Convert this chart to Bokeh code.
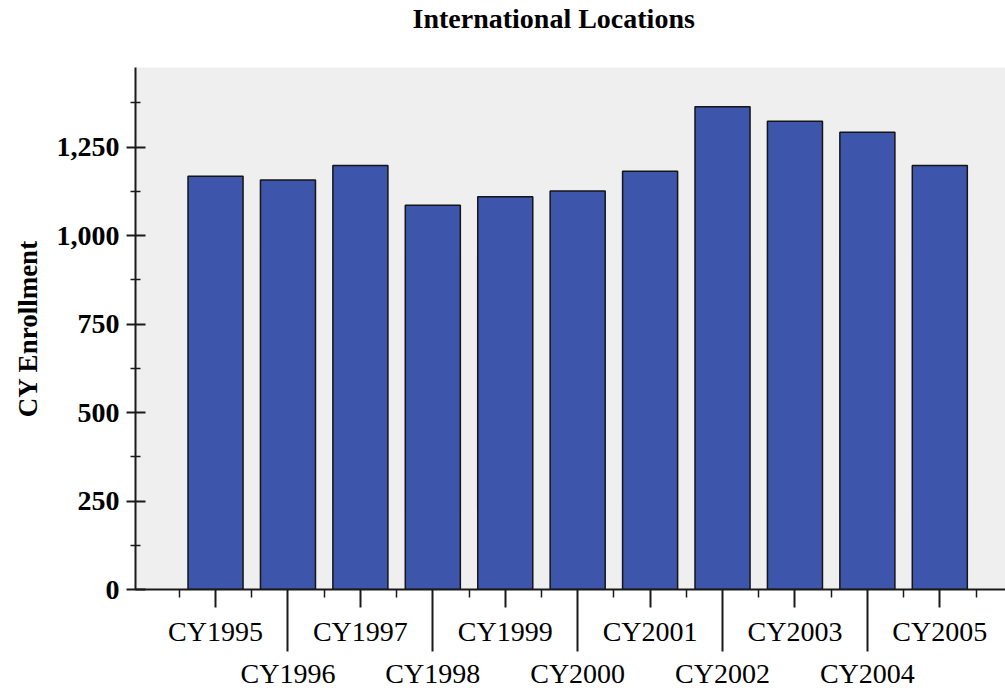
from bokeh.plotting import figure
from bokeh.models import FixedTicker, LinearAxis, NumeralTickFormatter, Range1d, Title
from bokeh.embed import file_html
from bokeh.resources import INLINE

# ---- data ----
years = ["CY1995", "CY1996", "CY1997", "CY1998", "CY1999", "CY2000",
         "CY2001", "CY2002", "CY2003", "CY2004", "CY2005"]
enrollment = [1168, 1157, 1198, 1086, 1110, 1126, 1182, 1364, 1323, 1292, 1198]
y_ticks = [0, 250, 500, 750, 1000, 1250]
y_minor_ticks = [125, 375, 625, 875, 1125, 1375]
title_text = "International Locations"
y_label = "CY Enrollment"

idx = list(range(len(years)))
row1 = idx[0::2]          # CY1995, CY1997, ...
row2 = idx[1::2]          # CY1996, CY1998, ...
boundaries = [i - 0.5 for i in idx] + [idx[-1] + 0.5]

SERIF = "Liberation Serif"
BAR = "#3D55AB"
INK = "#1a1a1a"

p = figure(width=1005, height=691, title=None,
           x_range=Range1d(-1.105, 10.907), y_range=Range1d(0, 1475),
           x_axis_location=None, y_axis_location=None,
           output_backend="svg", toolbar_location=None,
           min_border_left=135, min_border_right=0,
           min_border_top=0, min_border_bottom=0)
p.background_fill_color = "#EFEFEF"
p.border_fill_color = "white"
p.outline_line_color = None
p.xgrid.grid_line_color = None
p.ygrid.grid_line_color = None

# spacer between the frame and the title, then the title on top
p.add_layout(Title(text=" ", standoff=0, text_font=SERIF,
                   text_font_size="25px"), "above")
p.add_layout(Title(text=title_text, align="left", offset=277,
                   vertical_align="top", standoff=5,
                   text_font=SERIF, text_font_style="bold",
                   text_font_size="28px", text_color="black"), "above")

p.vbar(x=idx, top=enrollment, bottom=0, width=0.76,
       fill_color=BAR, line_color="#151515", line_width=1.5)

# y axis
yaxis = LinearAxis(ticker=FixedTicker(ticks=y_ticks, minor_ticks=y_minor_ticks),
                   formatter=NumeralTickFormatter(format="0,0"),
                   axis_label=y_label)
yaxis.axis_line_color = INK
yaxis.axis_line_width = 2
yaxis.major_tick_in = 10
yaxis.major_tick_out = 9
yaxis.major_tick_line_width = 2
yaxis.major_tick_line_color = INK
yaxis.minor_tick_in = 5
yaxis.minor_tick_out = 5
yaxis.minor_tick_line_width = 1.5
yaxis.minor_tick_line_color = INK
yaxis.major_label_text_font = SERIF
yaxis.major_label_text_font_style = "bold"
yaxis.major_label_text_font_size = "28px"
yaxis.major_label_text_color = "black"
yaxis.major_label_standoff = 7
yaxis.axis_label_text_font = SERIF
yaxis.axis_label_text_font_style = "bold"
yaxis.axis_label_text_font_size = "27px"
yaxis.axis_label_text_color = "black"
yaxis.axis_label_standoff = 11
p.add_layout(yaxis, "left")

# x axis, first label row (with the axis line)
xa = LinearAxis(ticker=FixedTicker(ticks=row1, minor_ticks=boundaries),
                major_label_overrides={i: years[i] for i in row1})
xa.axis_line_color = INK
xa.axis_line_width = 2
xa.major_tick_in = 0
xa.major_tick_out = 18
xa.major_tick_line_width = 2
xa.major_tick_line_color = INK
xa.minor_tick_in = 0
xa.minor_tick_out = 8
xa.minor_tick_line_width = 1.5
xa.minor_tick_line_color = INK
xa.major_label_text_font = SERIF
xa.major_label_text_font_size = "28px"
xa.major_label_text_color = "black"
xa.major_label_standoff = 8
p.add_layout(xa, "below")

# x axis, second label row (long separator ticks)
xb = LinearAxis(ticker=FixedTicker(ticks=row2, minor_ticks=[]),
                major_label_overrides={i: years[i] for i in row2})
xb.axis_line_color = None
xb.major_tick_in = 60
xb.major_tick_out = 2
xb.major_tick_line_width = 2
xb.major_tick_line_color = INK
xb.minor_tick_line_color = None
xb.major_label_text_font = SERIF
xb.major_label_text_font_size = "28px"
xb.major_label_text_color = "black"
xb.major_label_standoff = 6
p.add_layout(xb, "below")

open("out.html", "w").write(file_html(p, INLINE))
